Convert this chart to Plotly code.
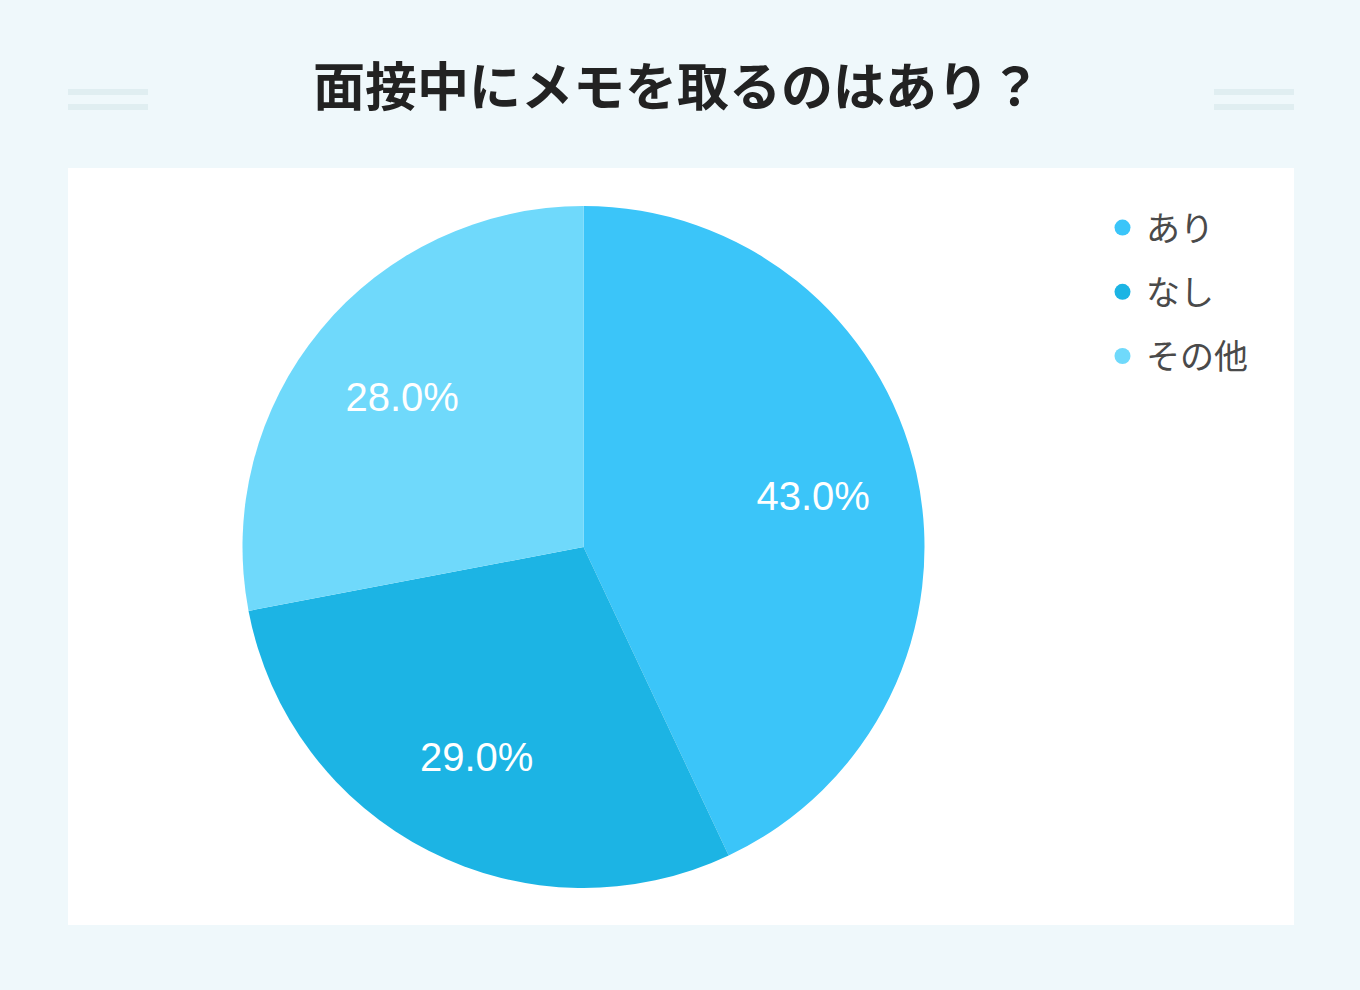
import plotly.graph_objects as go

# data
labels = ["あり", "なし", "その他"]
values = [43.0, 29.0, 28.0]
colors = ["#3bc5f9", "#1cb4e4", "#6fd9fb"]
title = "面接中にメモを取るのはあり？"

W, H = 1360, 990
pie_domain = dict(x=[242 / W, 925 / W], y=[1 - 888 / H, 1 - 206 / H])

fig = go.Figure()
# the slices
fig.add_trace(go.Pie(
    labels=labels, values=values, sort=False,
    direction="clockwise", rotation=0,
    marker=dict(colors=colors, line=dict(width=0)),
    textinfo="none", hoverinfo="label+percent",
    showlegend=False, domain=pie_domain,
))
# transparent ring on top, only used to push the % labels outwards
fig.add_trace(go.Pie(
    labels=labels, values=values, sort=False,
    direction="clockwise", rotation=0, hole=0.38,
    marker=dict(colors=["rgba(0,0,0,0)"] * 3, line=dict(width=0)),
    texttemplate="%{percent:.1%}", textposition="inside",
    insidetextorientation="horizontal",
    textfont=dict(family="Liberation Sans, Arial", size=40, color="white"),
    hoverinfo="skip", showlegend=False, domain=pie_domain,
))
# legend entries with round markers
for i, (lab, col) in enumerate(zip(labels, colors)):
    fig.add_trace(go.Scatter(
        x=[None], y=[None], mode="markers", name=lab,
        marker=dict(color=col, size=16, symbol="circle"),
        legendgroup="g%d" % i, showlegend=True,
    ))

# white card behind the chart
fig.add_shape(type="rect", xref="paper", yref="paper",
              x0=68 / W, x1=1294 / W, y0=1 - 925 / H, y1=1 - 168 / H,
              fillcolor="white", line=dict(width=0), layer="below")

# decorative double lines beside the title
for x0, x1 in [(68, 148), (1214, 1294)]:
    for yc in [92, 107]:
        fig.add_shape(type="line", xref="paper", yref="paper",
                      x0=x0 / W, x1=x1 / W, y0=1 - yc / H, y1=1 - yc / H,
                      line=dict(color="#e0eef1", width=6))

fig.update_layout(
    width=W, height=H,
    margin=dict(l=0, r=0, t=0, b=0),
    paper_bgcolor="#eff8fb",
    plot_bgcolor="rgba(0,0,0,0)",
    xaxis=dict(visible=False),
    yaxis=dict(visible=False),
    title=dict(text="<b>" + title + "</b>", x=677 / W, xanchor="center",
               y=1 - 88 / H, yanchor="middle",
               font=dict(family="Noto Sans CJK JP", size=52, color="#222222")),
    legend=dict(x=1099 / W, y=1 - 199 / H, xanchor="left", yanchor="top",
                font=dict(family="Noto Sans CJK JP", size=34, color="#4a4a4a"),
                bgcolor="rgba(0,0,0,0)", itemwidth=37, tracegroupgap=17),
)

fig.write_html("out.html", config={"displayModeBar": False},
               post_script="document.body.style.margin='0';")
